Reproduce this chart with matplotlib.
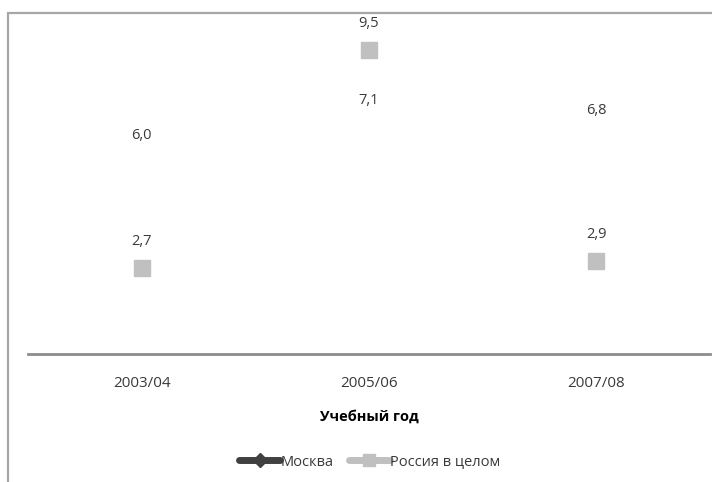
import matplotlib.pyplot as plt
from matplotlib.lines import Line2D
from matplotlib.patches import Rectangle

# Данные
years = ['2003/04', '2005/06', '2007/08']
moskva = [6.0, 7.1, 6.8]
rossiya = [2.7, 9.5, 2.9]

c_moskva = '#404040'
c_rossiya = '#c0c0c0'
c_text = '#3a3a3a'

plt.rcParams['font.family'] = ['Open Sans', 'DejaVu Sans']

fig = plt.figure(figsize=(7.12, 4.82), dpi=100)
W, H = 712, 482

# рамка области диаграммы (правый и нижний края обрезаны)
fig.patches.append(Rectangle((8 / W, -0.1), 1.2, (482 - 13) / H + 0.1,
                             transform=fig.transFigure, fill=False,
                             edgecolor='#a6a6a6', linewidth=1.6))

ax = fig.add_axes([28 / W, (H - 354) / H, (710 - 28) / W, (354 - 18) / H])
x = list(range(len(years)))

# Россия в целом: только маркеры
ax.plot(x, rossiya, linestyle='none', marker='s', markersize=11,
        color=c_rossiya, zorder=3)

for xi, v in zip(x, rossiya):
    ax.annotate(f'{v:.1f}'.replace('.', ','), (xi, v), xytext=(0, 19),
                textcoords='offset points', ha='center', va='center',
                fontsize=10.5, color=c_text)
# Москва: маркеры не видны, только подписи
for xi, v in zip(x, moskva):
    ax.annotate(f'{v:.1f}'.replace('.', ','), (xi, v), xytext=(0, 19),
                textcoords='offset points', ha='center', va='center',
                fontsize=10.5, color=c_text)

ax.set_xlim(-0.5, len(years) - 0.5)
ax.set_ylim(0, 10.5)
ax.set_xticks(x)
ax.set_xticklabels(years, fontsize=11, color=c_text)
ax.tick_params(axis='x', length=0, pad=16)
ax.set_yticks([])
for s in ['top', 'right', 'left']:
    ax.spines[s].set_visible(False)
ax.spines['bottom'].set_color('#8c8c8c')
ax.spines['bottom'].set_linewidth(2)

ax.set_xlabel('Учебный год', fontsize=10.5, fontweight='bold', color='black',
              labelpad=13)

handles = [
    Line2D([], [], color=c_moskva, linewidth=5, marker='D', markersize=7,
           solid_capstyle='round'),
    Line2D([], [], color=c_rossiya, linewidth=5, marker='s', markersize=8,
           solid_capstyle='round'),
]
fig.legend(handles, ['Москва', 'Россия в целом'], loc='center',
           bbox_to_anchor=(370 / W, (H - 462) / H), ncol=2, frameon=False,
           fontsize=10.5, handlelength=2.8, handletextpad=0.05,
           columnspacing=1.0, labelcolor=c_text)

fig.savefig('out.png', dpi=100)
